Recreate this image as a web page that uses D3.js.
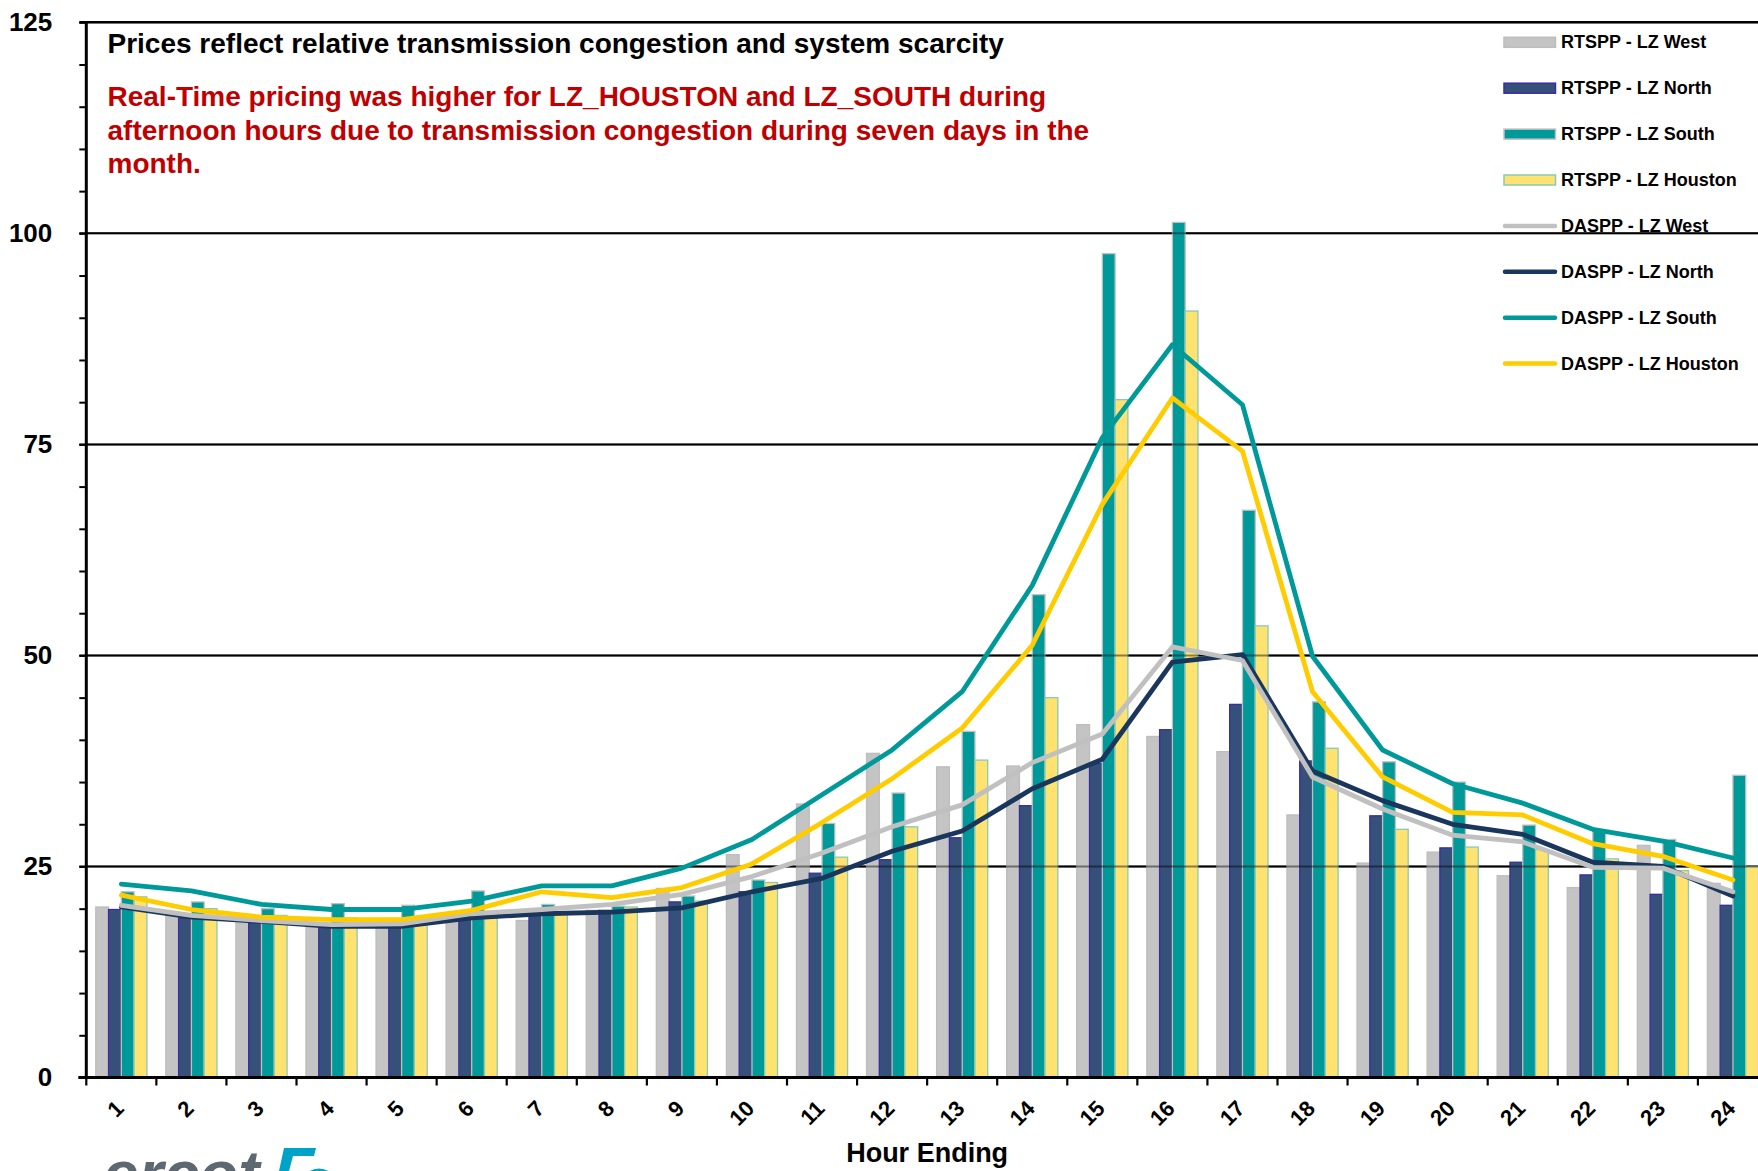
<!DOCTYPE html>
<html>
<head>
<meta charset="utf-8">
<script src="https://cdn.jsdelivr.net/npm/d3@7"></script>
<style>
  html, body { margin: 0; padding: 0; background: #ffffff; overflow: hidden; }
  svg { display: block; font-family: "Liberation Sans", Arial, sans-serif; font-weight: bold; }
</style>
</head>
<body>
<svg id="chart" width="1758" height="1171"></svg>
<script>
// ---------- data ----------
const hours = ["1","2","3","4","5","6","7","8","9","10","11","12","13","14","15","16","17","18","19","20","21","22","23","24"];
const rtWest    = [20.2, 19.3, 18.3, 17.9, 17.9, 18.5, 18.6, 19.8, 22.4, 26.4, 32.4, 38.4, 36.8, 36.9, 41.8, 40.4, 38.6, 31.1, 25.4, 26.7, 23.9, 22.5, 27.5, 23.0];
const rtNorth   = [19.9, 18.9, 18.3, 17.9, 17.9, 18.9, 19.2, 19.8, 20.8, 22.0, 24.2, 25.8, 28.4, 32.2, 37.2, 41.2, 44.2, 37.5, 31.0, 27.2, 25.5, 24.0, 21.7, 20.4];
const rtSouth   = [22.0, 20.8, 20.0, 20.6, 20.4, 22.1, 20.5, 20.3, 21.5, 23.4, 30.1, 33.7, 41.0, 57.2, 97.6, 101.3, 67.2, 44.5, 37.4, 35.0, 29.9, 29.3, 28.2, 35.8];
const rtHouston = [21.4, 20.0, 19.2, 18.9, 18.1, 18.9, 19.4, 20.2, 20.9, 23.1, 26.1, 29.7, 37.6, 45.0, 80.3, 90.8, 53.5, 39.0, 29.4, 27.3, 27.0, 25.9, 24.5, 25.0];
const daWest    = [20.4, 19.2, 18.6, 18.1, 18.2, 19.4, 19.9, 20.5, 21.7, 23.8, 26.6, 29.7, 32.3, 37.3, 40.7, 51.0, 49.4, 35.6, 31.8, 28.7, 27.9, 24.9, 24.8, 22.0];
const daNorth   = [20.2, 19.0, 18.5, 17.9, 17.9, 18.9, 19.4, 19.6, 20.1, 22.0, 23.6, 26.8, 29.2, 34.2, 37.7, 49.2, 50.1, 36.3, 32.8, 30.0, 28.8, 25.5, 25.0, 21.5];
const daSouth   = [22.9, 22.1, 20.5, 19.9, 19.9, 20.9, 22.7, 22.7, 24.8, 28.2, 33.5, 38.8, 45.7, 58.3, 75.8, 86.8, 79.7, 49.9, 38.8, 34.8, 32.5, 29.4, 28.0, 26.0];
const daHouston = [21.6, 19.9, 19.0, 18.7, 18.7, 19.8, 22.0, 21.3, 22.5, 25.3, 30.2, 35.4, 41.4, 51.2, 67.9, 80.5, 74.2, 45.7, 35.6, 31.4, 31.1, 27.7, 26.2, 23.4];
const yTickLabels = [0, 25, 50, 75, 100, 125];
const barNames  = ["RTSPP - LZ West", "RTSPP - LZ North", "RTSPP - LZ South", "RTSPP - LZ Houston"];
const lineNames = ["DASPP - LZ West", "DASPP - LZ North", "DASPP - LZ South", "DASPP - LZ Houston"];
const titleText = "Prices reflect relative transmission congestion and system scarcity";
const noteLines = ["Real-Time pricing was higher for LZ_HOUSTON and LZ_SOUTH during",
                   "afternoon hours due to transmission congestion during seven days in the",
                   "month."];
const xTitle = "Hour Ending";

(function draw() {
// ---------- styles ----------
const barStyle = [
  {fill: "#c4c4c4", stroke: "#bdbdbd"},
  {fill: "#365179", stroke: "#3a2ca2"},
  {fill: "#009999", stroke: "#c0c0c0"},
  {fill: "#ffe270", stroke: "#86cbb6"}
];
const lineColor = ["#c0c0c0", "#1b365d", "#009999", "#ffcc00"];

const barSeries = [rtWest, rtNorth, rtSouth, rtHouston];
const lineSeries = [daWest, daNorth, daSouth, daHouston];

// ---------- layout ----------
const svg = d3.select("#chart");
const pLeft = 86.3, step = 70.07, pRight = pLeft + step * hours.length;
const pTop = 22.3, pBottom = 1077.5;

const x0 = d3.scaleBand().domain(hours).range([pLeft, pRight]).paddingInner(0.27).paddingOuter(0.135);
const x1 = d3.scaleBand().domain(d3.range(4)).range([0, x0.bandwidth()]);
const y = d3.scaleLinear().domain([0, 125]).range([pBottom, pTop]);
const xc = h => x0(h) + x0.bandwidth() / 2;

// gridlines (behind)
const gridVals = [25, 50, 75, 100, 125];
svg.append("g").selectAll("line").data(gridVals).join("line")
  .attr("x1", pLeft - 7).attr("x2", 1758)
  .attr("y1", d => y(d)).attr("y2", d => y(d))
  .attr("stroke", "#000").attr("stroke-width", d => d === 125 ? 2.5 : 2);

// bars
const gBars = svg.append("g");
hours.forEach((h, i) => {
  gBars.append("g").selectAll("rect").data(barSeries.map(s => s[i])).join("rect")
    .attr("x", (d, k) => x0(h) + x1(k))
    .attr("width", x1.bandwidth())
    .attr("y", d => y(d))
    .attr("height", d => y(0) - y(d))
    .attr("fill", (d, k) => barStyle[k].fill)
    .attr("stroke", (d, k) => barStyle[k].stroke)
    .attr("stroke-width", 1.3);
});

// gridlines over bars (translucent)
svg.append("g").selectAll("line").data(gridVals).join("line")
  .attr("x1", pLeft).attr("x2", 1758)
  .attr("y1", d => y(d)).attr("y2", d => y(d))
  .attr("stroke", "#000").attr("stroke-opacity", 0.45).attr("stroke-width", 2);

// lines
const lineGen = d3.line().x((d, i) => xc(hours[i])).y(d => y(d));
[1, 0, 2, 3].forEach(k => {
  svg.append("path").datum(lineSeries[k])
    .attr("d", lineGen)
    .attr("fill", "none")
    .attr("stroke", lineColor[k])
    .attr("stroke-width", 4.8)
    .attr("stroke-linejoin", "round")
    .attr("stroke-linecap", "round");
});

// y axis
const yAxis = d3.axisLeft(y).tickValues(d3.range(0, 126, 5)).tickSize(7).tickPadding(27)
  .tickFormat(d => yTickLabels.includes(d) ? d : "");
const gy = svg.append("g").attr("transform", `translate(${pLeft},0)`).call(yAxis);
gy.select(".domain").remove();
gy.selectAll(".tick line").attr("stroke", "#000").attr("stroke-width", 2);
gy.selectAll(".tick text").attr("font-size", 26).attr("font-weight", "bold").attr("fill", "#000")
  .attr("font-family", '"Liberation Sans", Arial, sans-serif');
svg.append("line").attr("x1", pLeft).attr("x2", pLeft).attr("y1", pTop - 1).attr("y2", pBottom + 1.5)
  .attr("stroke", "#000").attr("stroke-width", 3);

// x axis line + boundary ticks
svg.append("line").attr("x1", pLeft - 8).attr("x2", 1758).attr("y1", pBottom).attr("y2", pBottom)
  .attr("stroke", "#000").attr("stroke-width", 3);
svg.append("g").selectAll("line").data(d3.range(hours.length + 1)).join("line")
  .attr("x1", i => pLeft + i * x0.step()).attr("x2", i => pLeft + i * x0.step())
  .attr("y1", pBottom).attr("y2", pBottom + 8)
  .attr("stroke", "#000").attr("stroke-width", 2.2);

// x tick labels (rotated)
svg.append("g").selectAll("text").data(hours).join("text")
  .attr("transform", h => `translate(${xc(h) - 1.5},1104.5) rotate(-45)`)
  .attr("text-anchor", "end").attr("dominant-baseline", "central")
  .attr("font-size", 22).attr("fill", "#000").text(h => h);

// x title
svg.append("text").attr("x", (pLeft + pRight) / 2).attr("y", 1162)
  .attr("text-anchor", "middle").attr("font-size", 27).attr("fill", "#000").text(xTitle);

// title + note
svg.append("text").attr("x", 107.5).attr("y", 53).attr("font-size", 28).attr("fill", "#000").text(titleText);
svg.append("g").selectAll("text").data(noteLines).join("text")
  .attr("x", 107.5).attr("y", (d, i) => 106 + i * 33.6)
  .attr("font-size", 28).attr("fill", "#c00000").text(d => d);

// legend
const legY = d3.range(8).map(i => 42.3 + i * 45.9);
const gLeg = svg.append("g");
barNames.forEach((n, k) => {
  gLeg.append("rect").attr("x", 1504).attr("y", legY[k] - 5).attr("width", 51.5).attr("height", 10)
    .attr("fill", barStyle[k].fill).attr("stroke", barStyle[k].stroke).attr("stroke-width", 1.5);
  gLeg.append("text").attr("x", 1561).attr("y", legY[k]).attr("dominant-baseline", "central")
    .attr("font-size", 18).attr("fill", "#000").text(n);
});
lineNames.forEach((n, k) => {
  const yy = legY[k + 4];
  gLeg.append("line").attr("x1", 1505).attr("x2", 1555).attr("y1", yy).attr("y2", yy)
    .attr("stroke", lineColor[k]).attr("stroke-width", 4.5).attr("stroke-linecap", "round");
  gLeg.append("text").attr("x", 1561).attr("y", yy).attr("dominant-baseline", "central")
    .attr("font-size", 18).attr("fill", "#000").text(n);
});

// logo (partially visible at bottom, as in the reference)
svg.append("text").attr("x", 103).attr("y", 1196).attr("font-size", 64)
  .attr("font-style", "italic").attr("font-weight", "bold").attr("fill", "#5d6870").text("ercot");
svg.append("path").attr("d", "M284,1148 L316,1148 L314,1156 L293,1156 L289,1171 L279,1171 Z").attr("fill", "#00a3c8");
svg.append("circle").attr("cx", 319).attr("cy", 1187).attr("r", 14).attr("fill", "none")
  .attr("stroke", "#00a3c8").attr("stroke-width", 9);
})();
</script>
</body>
</html>
